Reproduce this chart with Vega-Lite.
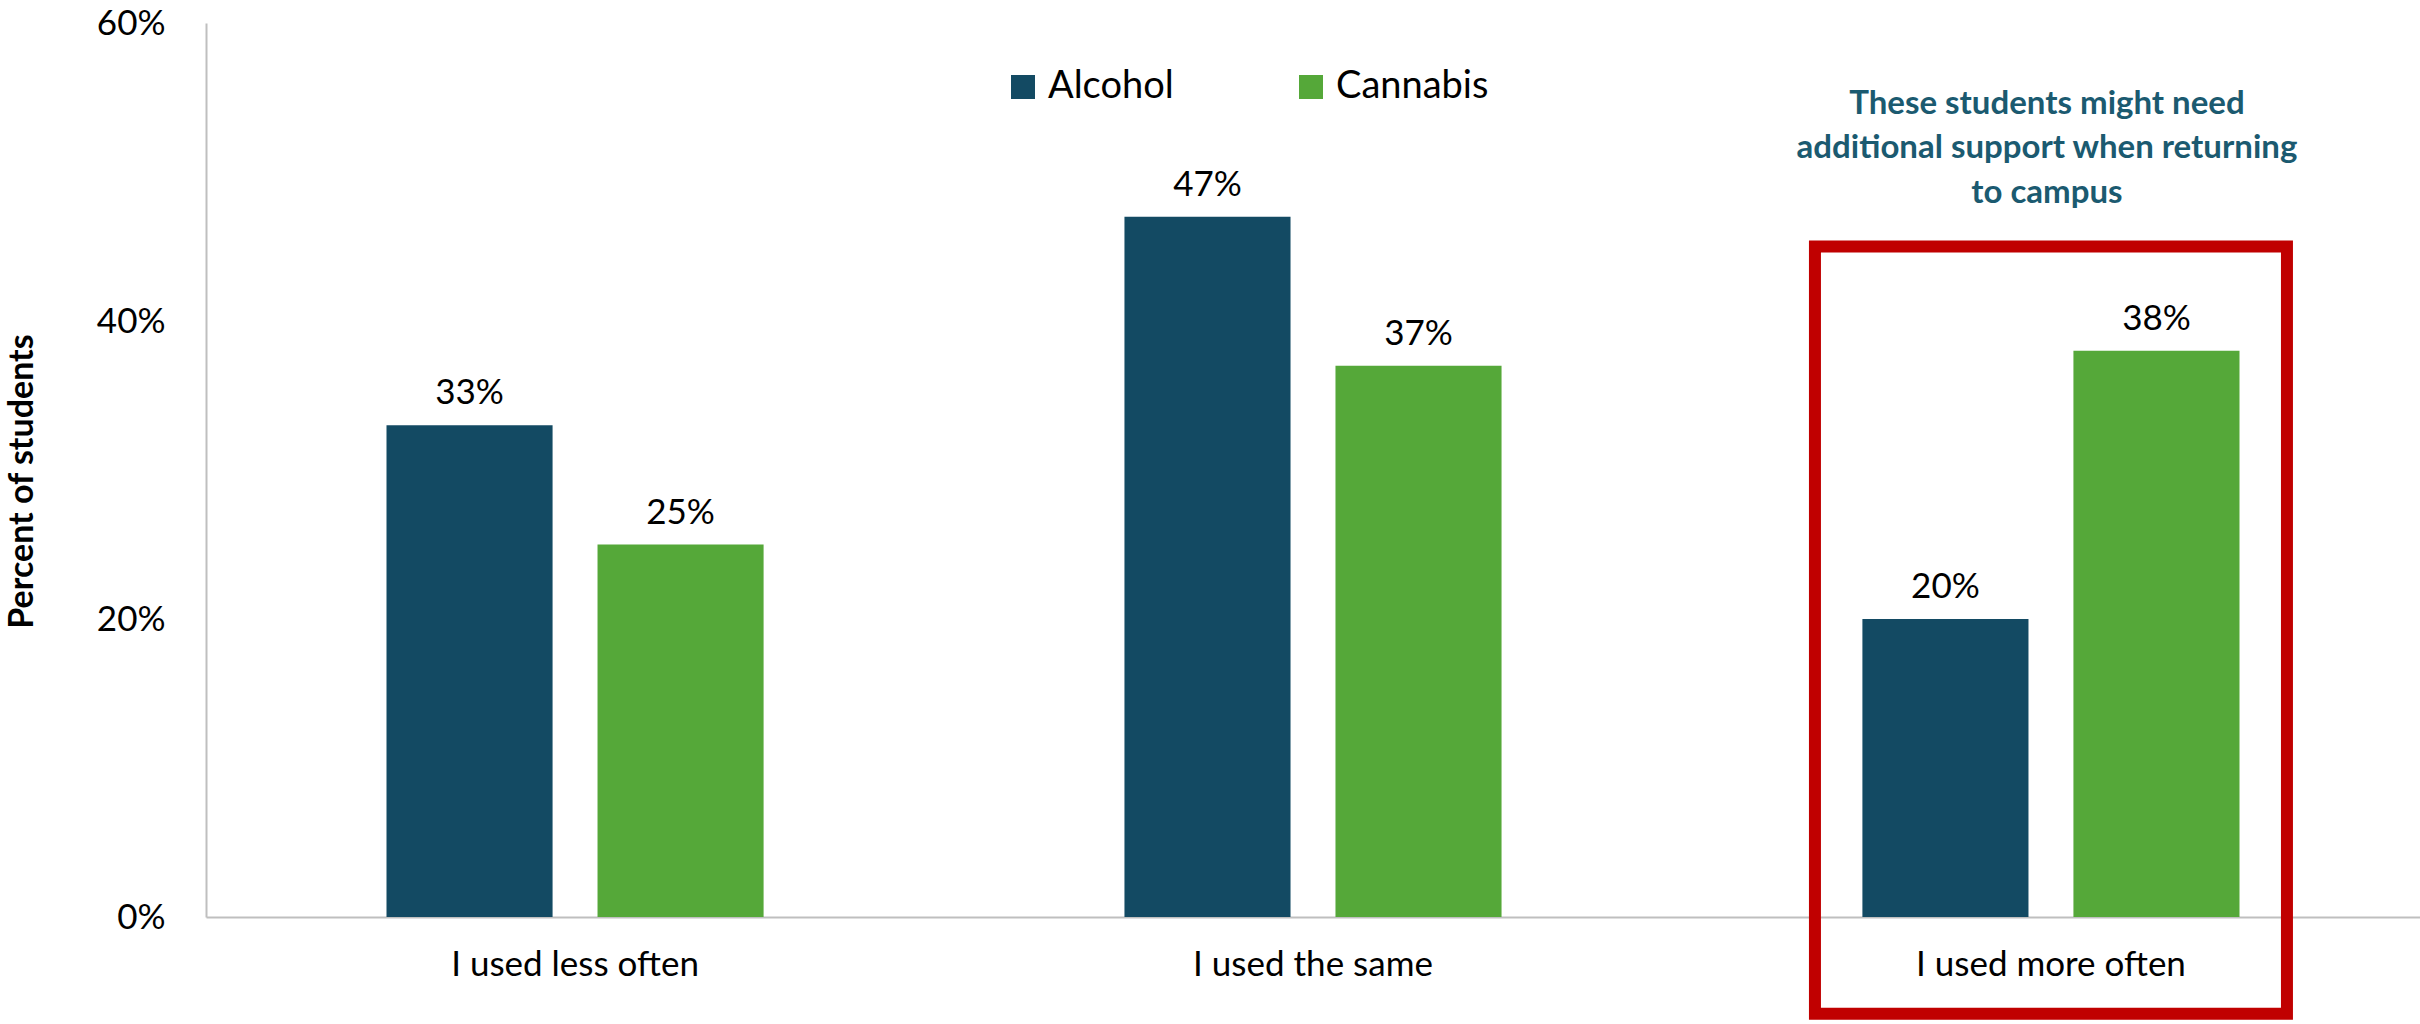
{
  "$schema": "https://vega.github.io/schema/vega-lite/v6.json",
  "autosize": "none",
  "width": 2214,
  "height": 894,
  "padding": {"left": 206, "top": 23, "right": 0, "bottom": 107},
  "background": "white",
  "config": {
    "font": "Lato",
    "view": {"stroke": null},
    "axis": {"grid": false, "ticks": false, "domainColor": "#BFBFBF", "domainWidth": 2, "labelColor": "#000000", "labelFont": "Lato"}
  },
  "datasets": {
    "bars": [
      {"category": "I used less often", "substance": "Alcohol", "pct": 0.33},
      {"category": "I used less often", "substance": "Cannabis", "pct": 0.25},
      {"category": "I used the same", "substance": "Alcohol", "pct": 0.47},
      {"category": "I used the same", "substance": "Cannabis", "pct": 0.37},
      {"category": "I used more often", "substance": "Alcohol", "pct": 0.20},
      {"category": "I used more often", "substance": "Cannabis", "pct": 0.38}
    ],
    "note": [
      {"category": "I used more often", "label": "These students might need|additional support when returning|to campus"}
    ]
  },
  "encoding": {
    "x": {
      "field": "category",
      "type": "nominal",
      "sort": ["I used less often", "I used the same", "I used more often"],
      "scale": {"domain": ["I used less often", "I used the same", "I used more often"], "paddingInner": 0.489, "paddingOuter": 0.2446},
      "axis": {"title": null, "labelAngle": 0, "labelFontSize": 35, "labelPadding": 30, "labelBaseline": "top", "labelLimit": 0}
    }
  },
  "layer": [
    {
      "data": {"name": "bars"},
      "mark": {"type": "bar"},
      "encoding": {
        "xOffset": {"field": "substance", "type": "nominal", "scale": {"domain": ["Alcohol", "Cannabis"], "paddingInner": 0.213, "paddingOuter": 0}},
        "y": {
          "field": "pct",
          "type": "quantitative",
          "scale": {"domain": [0, 0.6], "nice": false, "zero": true},
          "axis": {
            "values": [0, 0.2, 0.4, 0.6],
            "format": ".0%",
            "labelFontSize": 35,
            "labelPadding": 41,
            "title": "Percent of students",
            "titleFontSize": 34,
            "titleFontWeight": "bold",
            "titleColor": "#000000",
            "titleAngle": -90,
            "titleX": -184,
            "titleY": 458,
            "titleAlign": "center",
            "titleBaseline": "middle"
          }
        },
        "color": {
          "field": "substance",
          "type": "nominal",
          "scale": {"domain": ["Alcohol", "Cannabis"], "range": ["#134A63", "#55A839"]},
          "legend": {
            "title": null,
            "orient": "none",
            "legendX": 798,
            "legendY": 45,
            "direction": "horizontal",
            "columns": 2,
            "columnPadding": 118,
            "symbolType": "square",
            "symbolSize": 576,
            "symbolStrokeWidth": 0,
            "labelFontSize": 38,
            "labelOffset": 6,
            "labelColor": "#000000",
            "padding": 0
          }
        }
      }
    },
    {
      "data": {"name": "bars"},
      "mark": {"type": "text", "fontSize": 35, "baseline": "alphabetic", "dy": -21, "color": "#000000"},
      "encoding": {
        "xOffset": {"field": "substance", "type": "nominal", "scale": {"domain": ["Alcohol", "Cannabis"], "paddingInner": 0.213, "paddingOuter": 0}},
        "y": {"field": "pct", "type": "quantitative"},
        "text": {"field": "pct", "type": "quantitative", "format": ".0%"}
      }
    },
    {
      "data": {"name": "note"},
      "mark": {"type": "bar", "fill": null, "fillOpacity": 0, "stroke": "#C00000", "strokeWidth": 12, "width": 472},
      "encoding": {
        "y": {"datum": 0.45, "type": "quantitative"},
        "y2": {"datum": -0.065}
      }
    },
    {
      "data": {"name": "note"},
      "mark": {"type": "text", "fontSize": 33, "fontWeight": "bold", "color": "#1B5A70", "align": "center", "baseline": "alphabetic", "lineBreak": "|", "lineHeight": 44.5, "dx": -4},
      "encoding": {
        "y": {"datum": 0.539, "type": "quantitative"},
        "text": {"field": "label"}
      }
    }
  ]
}
